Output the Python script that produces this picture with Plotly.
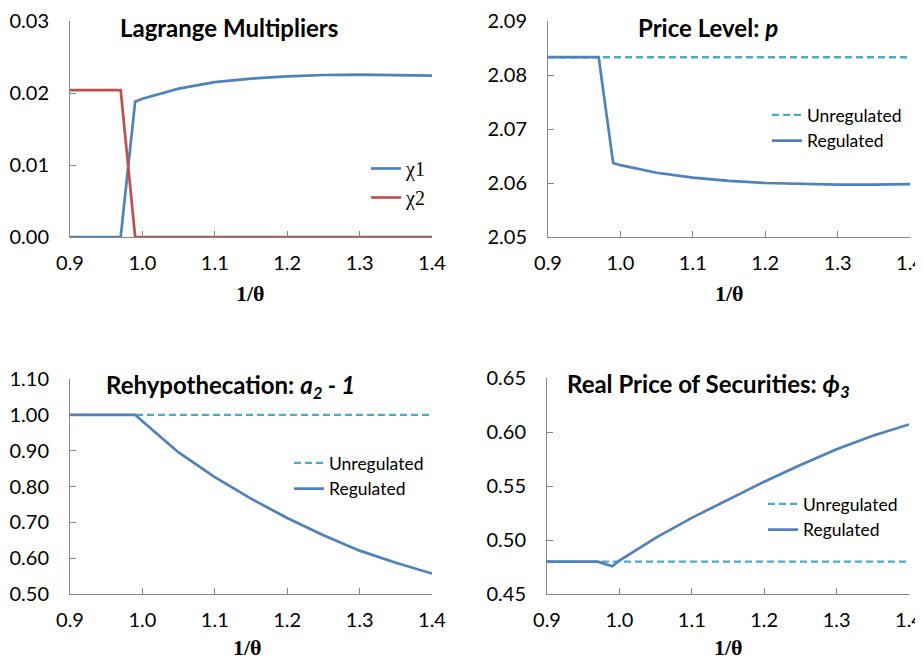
import plotly.graph_objects as go

# ---------------- data ----------------
x_vals = [0.90, 0.97, 0.98, 0.99, 1.00, 1.05, 1.10, 1.15, 1.20, 1.25, 1.30, 1.35, 1.40]

chi1 = [0.0, 0.0, 0.0094, 0.0188, 0.0192, 0.0206, 0.0215, 0.0220, 0.0223, 0.0225, 0.02255, 0.0225, 0.0224]
chi2 = [0.0204, 0.0204, 0.0102, 0.0, 0.0, 0.0, 0.0, 0.0, 0.0, 0.0, 0.0, 0.0, 0.0]

price_unreg = [2.0833, 2.0833, 2.0833, 2.0833, 2.0833, 2.0833, 2.0833, 2.0833, 2.0833, 2.0833, 2.0833, 2.0833, 2.0833]
price_reg = [2.0833, 2.0833, 2.0735, 2.0637, 2.0633, 2.0619, 2.0610, 2.0604, 2.0600, 2.0598, 2.0597, 2.0597, 2.0598]

rehyp_unreg = [1.0, 1.0, 1.0, 1.0, 1.0, 1.0, 1.0, 1.0, 1.0, 1.0, 1.0, 1.0, 1.0]
rehyp_reg = [1.0, 1.0, 1.0, 1.0, 0.982, 0.895, 0.826, 0.766, 0.712, 0.664, 0.621, 0.587, 0.557]

phi_unreg = [0.48, 0.48, 0.48, 0.48, 0.48, 0.48, 0.48, 0.48, 0.48, 0.48, 0.48, 0.48, 0.48]
phi_reg = [0.48, 0.48, 0.4778, 0.4757, 0.481, 0.502, 0.5205, 0.5375, 0.554, 0.5695, 0.584, 0.5965, 0.607]

x_ticks = [0.9, 1.0, 1.1, 1.2, 1.3, 1.4]
y_ticks_lagr = [0.00, 0.01, 0.02, 0.03]
y_ticks_price = [2.05, 2.06, 2.07, 2.08, 2.09]
y_ticks_rehyp = [0.50, 0.60, 0.70, 0.80, 0.90, 1.00, 1.10]
y_ticks_phi = [0.45, 0.50, 0.55, 0.60, 0.65]

titles = ["Lagrange Multipliers",
          "Price Level: <i>p</i>",
          "Rehypothecation: <i>a<sub>2</sub> - 1</i>",
          "Real Price of Securities: <i>ϕ<sub>3</sub></i>"]

# ---------------- styling ----------------
PAGE_W, PAGE_H = 923, 659
OFF = 8  # default page body margin
W, H = PAGE_W - OFF, PAGE_H - OFF
BLUE = "#4F81BD"
RED = "#C0504D"
CYAN = "#4BACC6"
AXC = "#868686"
FONT = "Lato"
SERIF = "Liberation Serif"

def px_x(p):
    return (p - OFF) / W

def px_y(p):
    return 1 - (p - OFF) / H

fig = go.Figure()

# panel geometry in page pixels: (left, right, top, bottom)
panels = {
    1: (70, 432, 21, 237),
    2: (548, 910, 21, 237),
    3: (70, 432, 379, 594),
    4: (547, 909, 378, 594),
}

LW = 2.7
fig.add_trace(go.Scatter(x=x_vals, y=chi1, mode="lines", name="χ1",
                         line=dict(color=BLUE, width=LW), xaxis="x", yaxis="y", legend="legend"))
fig.add_trace(go.Scatter(x=x_vals, y=chi2, mode="lines", name="χ2",
                         line=dict(color=RED, width=LW), xaxis="x", yaxis="y", legend="legend"))

fig.add_trace(go.Scatter(x=x_vals, y=price_unreg, mode="lines", name="Unregulated",
                         line=dict(color=CYAN, width=2.4, dash="7px,4px"), xaxis="x2", yaxis="y2", legend="legend2"))
fig.add_trace(go.Scatter(x=x_vals, y=price_reg, mode="lines", name="Regulated",
                         line=dict(color=BLUE, width=LW), xaxis="x2", yaxis="y2", legend="legend2"))

fig.add_trace(go.Scatter(x=x_vals, y=rehyp_unreg, mode="lines", name="Unregulated",
                         line=dict(color=CYAN, width=2.4, dash="7px,4px"), xaxis="x3", yaxis="y3", legend="legend3"))
fig.add_trace(go.Scatter(x=x_vals, y=rehyp_reg, mode="lines", name="Regulated",
                         line=dict(color=BLUE, width=LW), xaxis="x3", yaxis="y3", legend="legend3"))

fig.add_trace(go.Scatter(x=x_vals, y=phi_unreg, mode="lines", name="Unregulated",
                         line=dict(color=CYAN, width=2.4, dash="7px,4px"), xaxis="x4", yaxis="y4", legend="legend4"))
fig.add_trace(go.Scatter(x=x_vals, y=phi_reg, mode="lines", name="Regulated",
                         line=dict(color=BLUE, width=LW), xaxis="x4", yaxis="y4", legend="legend4"))

yranges = {1: ([0, 0.03], y_ticks_lagr), 2: ([2.05, 2.09], y_ticks_price),
           3: ([0.5, 1.1], y_ticks_rehyp), 4: ([0.45, 0.65], y_ticks_phi)}

layout = {}
for i in range(1, 5):
    l, r, t, b = panels[i]
    sx = "" if i == 1 else str(i)
    common = dict(showline=True, linecolor=AXC, linewidth=1, showgrid=False, zeroline=False,
                  ticks="inside", ticklen=6, tickcolor=AXC, tickwidth=1,
                  tickfont=dict(family=FONT, size=20, color="#000000"))
    layout["xaxis" + sx] = dict(domain=[px_x(l), px_x(r)], anchor="y" + sx, range=[0.9, 1.4],
                                tickvals=x_ticks, tickformat=".1f", ticklabelstandoff=8,
                                ticklabeloverflow="allow", **common)
    yr, yt = yranges[i]
    layout["yaxis" + sx] = dict(domain=[px_y(b), px_y(t)], anchor="x" + sx, range=yr,
                                tickvals=yt, tickformat=".2f", ticklabelstandoff=16, **common)

fig.update_layout(**layout)

leg_common = dict(bgcolor="rgba(0,0,0,0)", borderwidth=0, xanchor="left", yanchor="top",
                  xref="paper", yref="paper", tracegroupgap=0)
fig.update_layout(
    legend=dict(x=px_x(366), y=px_y(149), font=dict(family=SERIF, size=20, color="#000"), **leg_common),
    legend2=dict(x=px_x(767), y=px_y(97), font=dict(family=FONT, size=17.5, color="#000"), **leg_common),
    legend3=dict(x=px_x(289), y=px_y(445), font=dict(family=FONT, size=17.5, color="#000"), **leg_common),
    legend4=dict(x=px_x(763), y=px_y(486), font=dict(family=FONT, size=17.5, color="#000"), **leg_common),
)

title_pos = [(229, 27), (708, 27), (230, 386), (708, 385)]
annotations = []
for txt, (cx, cy) in zip(titles, title_pos):
    annotations.append(dict(text="<b>" + txt + "</b>", x=px_x(cx), y=px_y(cy), xref="paper", yref="paper",
                            xanchor="center", yanchor="middle", showarrow=False,
                            font=dict(family=FONT, size=24, color="#000")))
for cx, cy in [(251, 293), (729, 293), (247, 647), (728, 647)]:
    annotations.append(dict(text="<b>1/θ</b>", x=px_x(cx), y=px_y(cy), xref="paper", yref="paper",
                            xanchor="center", yanchor="middle", showarrow=False,
                            font=dict(family=SERIF, size=22, color="#000")))

fig.update_layout(annotations=annotations, width=W, height=H,
                  margin=dict(l=0, r=0, t=0, b=0, autoexpand=False),
                  paper_bgcolor="white", plot_bgcolor="white", showlegend=True)

fig.write_html("out.html")
